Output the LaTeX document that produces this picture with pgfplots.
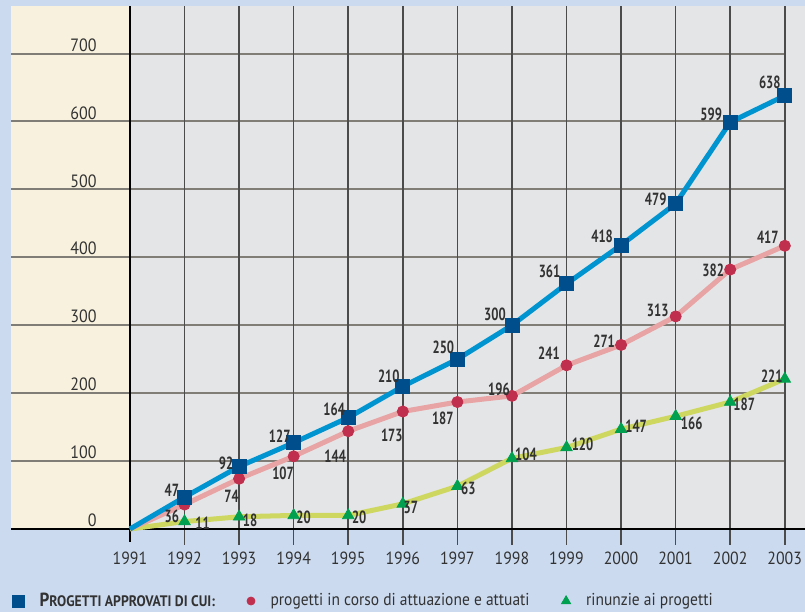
\documentclass[border=0pt]{standalone}
\usepackage{pgfplots}
\pgfplotsset{compat=1.18}
\usepackage{pgfplotstable}
\usepackage{fontspec}
\setmainfont{PT Sans}[FakeStretch=0.9]
\newfontfamily\lblfont{PT Sans}[FakeStretch=0.72]

\definecolor{bgblue}{RGB}{203,218,239}
\definecolor{plotgray}{RGB}{228,229,231}
\definecolor{cream}{RGB}{247,241,222}
\definecolor{gridh}{RGB}{128,124,118}
\definecolor{gridv}{RGB}{75,75,75}
\definecolor{lineblue}{RGB}{0,148,208}
\definecolor{markblue}{RGB}{0,78,140}
\definecolor{linered}{RGB}{232,164,164}
\definecolor{markred}{RGB}{192,48,78}
\definecolor{linegreen}{RGB}{206,216,96}
\definecolor{markgreen}{RGB}{0,160,80}
\definecolor{txt}{RGB}{50,50,50}

\pgfplotstableread{
x y dx dy
1991 0 0 0
1992 47 -6.3 3.5
1993 92 -6.5 1.8
1994 127 -7 3.5
1995 164 -7 4
1996 210 -7 5
1997 250 -7 6
1998 300 -8.5 5.5
1999 361 -8.5 6
2000 418 -9.5 4.5
2001 479 -10 2
2002 599 -9.5 4
2003 638 -7.5 6.5
}\bluedata

\pgfplotstableread{
x y dx dy
1991 0 0 0
1992 36 -6.3 -5.7
1993 74 -3.8 -9
1994 107 -5.3 -8.3
1995 144 -6.5 -12.5
1996 173 -5.5 -11.7
1997 187 -7.3 -8
1998 196 -6.5 3.5
1999 241 -8.8 5.8
2000 271 -8.5 2
2001 313 -9 2.8
2002 382 -8.5 -0.5
2003 417 -8.5 4.5
}\reddata

\pgfplotstableread{
x y dx dy
1991 0 0 0
1992 11 9 -1
1993 18 5.5 -2
1994 20 5 -1
1995 20 5.5 -1
1996 37 4 -2
1997 63 5.5 -1
1998 104 7 2
1999 120 8 1.5
2000 147 7.5 1.5
2001 166 8 -3.5
2002 187 7 -1
2003 221 -6.5 1.5
}\greendata

\pgfplotsset{
  lbl/.style={
    nodes near coords,
    visualization depends on={\thisrow{dx}\as\dx},
    visualization depends on={\thisrow{dy}\as\dy},
    every node near coord/.append style={anchor=center, inner sep=0pt,
      xshift=\dx pt, yshift=\dy pt, text=txt,
      font=\lblfont\bfseries\fontsize{8.8}{9}\selectfont},
    skip coords between index={0}{1},
  }
}

\begin{document}
\begin{tikzpicture}
\fill[bgblue] (0,0) rectangle (402.5pt,306pt);
\useasboundingbox (0,0) rectangle (402.5pt,306pt);
\fill[plotgray] (5.5pt,41.5pt) rectangle (402.5pt,303pt);
\fill[cream] (5.5pt,41.5pt) rectangle (65pt,303pt);
\begin{axis}[
  at={(5.5pt,41.5pt)}, anchor=south west,
  scale only axis, width=397pt, height=261.5pt,
  xmin=1988.82, xmax=2003.37, ymin=0, ymax=770,
  clip=false,
  axis line style={draw=none},
  tick style={draw=none},
  xtick={1991,...,2003},
  ytick={0,100,...,700},
  scaled x ticks=false,
  /pgf/number format/assume math mode=true,
  /pgf/number format/set thousands separator={},
  xticklabel style={font=\fontsize{8.8}{9}\selectfont, text=txt, yshift=-8pt},
  yticklabel style={font=\fontsize{8.9}{10}\selectfont, text=txt, anchor=base east, inner sep=0pt, xshift=43pt, yshift=1.2pt},
  legend columns=3,
  legend cell align=left,
  legend style={at={(0,-0.1377)}, anchor=west, xshift=0.3pt, draw=none, fill=none, inner sep=0pt,
    font=\fontsize{8.6}{9}\selectfont, text=txt,
    /tikz/every odd column/.append style={column sep=5.8pt},
    /tikz/every even column/.append style={column sep=14pt}},
]
\pgfplotsinvokeforeach{100,200,...,700}{
  \draw[gridh, line width=1pt] (axis cs:1988.82,#1) -- (axis cs:2003,#1);
}
\pgfplotsinvokeforeach{1992,...,2003}{
  \draw[gridv, line width=0.75pt] (axis cs:#1,770) -- ([yshift=-8pt]axis cs:#1,0);
}
\draw[black, line width=0.6pt] (axis cs:1991,770) -- ([yshift=-6.5pt]axis cs:1991,0);
\draw[black, line width=1.1pt] (axis cs:1988.82,0) -- (axis cs:2003.37,0);

\addplot[linegreen, line width=2.5pt, line join=round, forget plot] table[x=x,y=y]{\greendata};
\addplot[linered, line width=2.5pt, line join=round, forget plot] table[x=x,y=y]{\reddata};
\addplot[lineblue, line width=2.5pt, line join=round, forget plot] table[x=x,y=y]{\bluedata};

\addplot[only marks, mark=triangle*, mark size=3.3pt, color=markgreen, forget plot, lbl] table[x=x,y=y]{\greendata};
\addplot[only marks, mark=*, mark size=2.8pt, color=markred, forget plot, lbl] table[x=x,y=y]{\reddata};
\addplot[only marks, mark=square*, mark size=3.5pt, color=markblue, forget plot, lbl] table[x=x,y=y]{\bluedata};

\addlegendimage{only marks, mark=square*, mark size=3pt, color=markblue}
\addlegendentry{\bfseries\fontsize{9.5}{9}\selectfont P{\fontsize{7.6}{8}\selectfont ROGETTI APPROVATI DI CUI:}}
\addlegendimage{only marks, mark=*, mark size=2pt, color=markred}
\addlegendentry{progetti in corso di attuazione e attuati}
\addlegendimage{only marks, mark=triangle*, mark size=2.6pt, color=markgreen}
\addlegendentry{rinunzie ai progetti}
\end{axis}
\end{tikzpicture}
\end{document}
